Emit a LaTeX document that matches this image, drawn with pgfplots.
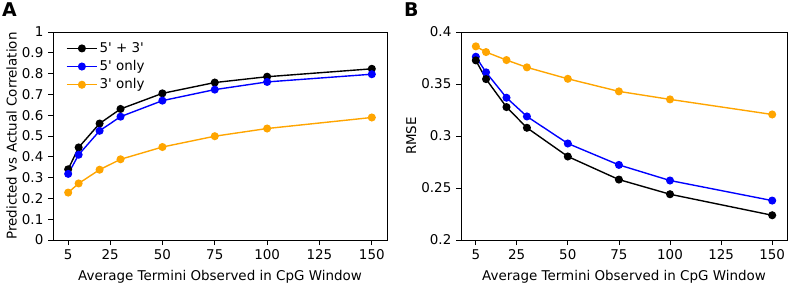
\documentclass[border=0pt]{standalone}
\usepackage{pgfplots}
\pgfplotsset{compat=1.18}
\usepackage{fontspec}
\setmainfont{DejaVu Sans}[Ligatures=TeXOff]
\definecolor{mplorange}{HTML}{FFA500}
\definecolor{mplblue}{HTML}{0000FF}
\pgfplotstableread{
x   both   five   three
5   0.340  0.318  0.228
10  0.445  0.410  0.272
20  0.560  0.525  0.338
30  0.630  0.593  0.388
50  0.705  0.670  0.447
75  0.757  0.723  0.499
100 0.785  0.760  0.536
150 0.823  0.797  0.589
}\corr
\pgfplotstableread{
x   both    five    three
5   0.3727  0.3762  0.3862
10  0.3547  0.3612  0.3807
20  0.3278  0.3368  0.3730
30  0.3079  0.3188  0.3660
50  0.2803  0.2928  0.3550
75  0.2581  0.2722  0.3429
100 0.2440  0.2572  0.3352
150 0.2238  0.2379  0.3207
}\rmse
\begin{document}
\fontsize{13.5}{15}\selectfont
\begin{tikzpicture}[x=1bp,y=1bp]
\pgfplotsset{
  every axis/.append style={
    scale only axis,
    height=208bp,
    xmin=-2.25, xmax=157.25,
    xtick={5,25,50,75,100,125,150},
    tick align=outside,
    major tick length=5bp,
    tick style={black, line width=0.8pt},
    axis line style={line width=0.8pt},
    tick label style={font=\fontsize{13.5}{15}\selectfont},
    label style={font=\fontsize{13.5}{15}\selectfont},
    xtick pos=bottom, ytick pos=left,
    /pgf/number format/assume math mode=true,
    xlabel={Average Termini Observed in CpG Window},
    xlabel style={yshift=-1bp},
    every axis plot/.append style={line width=1.4pt, mark=*, mark size=3.3bp},
  },
}
\begin{axis}[
  at={(53bp,48bp)}, anchor=south west,
  width=334bp,
  ymin=0, ymax=1,
  ytick={0,0.1,...,1.0},
  yticklabel style={/pgf/number format/.cd, fixed, precision=1},
  ylabel={Predicted vs Actual Correlation},
  ylabel style={yshift=-4bp},
  legend style={draw=none, fill=none, at={(0.03,0.97)}, anchor=north west,
    font=\fontsize{13.5}{15}\selectfont, row sep=2bp},
  legend cell align=left,
  legend image code/.code={\draw[#1] (0bp,0bp) -- (30bp,0bp); \draw[#1, mark repeat=2, mark phase=2] plot coordinates {(0bp,0bp) (15bp,0bp) (30bp,0bp)};},
]
\addplot[black] table[x=x,y=both]{\corr};
\addlegendentry{5' + 3'}
\addplot[mplblue] table[x=x,y=five]{\corr};
\addlegendentry{5' only}
\addplot[mplorange] table[x=x,y=three]{\corr};
\addlegendentry{3' only}
\end{axis}
\begin{axis}[
  at={(461bp,48bp)}, anchor=south west,
  width=326bp,
  ymin=0.2, ymax=0.4,
  ytick={0.2,0.25,0.3,0.35,0.4},
  yticklabel style={/pgf/number format/.cd, fixed, precision=2},
  ylabel={RMSE},
  ylabel style={yshift=-4bp},
]
\addplot[mplorange] table[x=x,y=three]{\rmse};
\addplot[mplblue] table[x=x,y=five]{\rmse};
\addplot[black] table[x=x,y=both]{\rmse};
\end{axis}
\node[anchor=north west, inner sep=0pt, font=\bfseries\fontsize{19}{20}\selectfont] at (2bp,285bp) {A};
\node[anchor=north west, inner sep=0pt, font=\bfseries\fontsize{19}{20}\selectfont] at (404bp,285bp) {B};
\pgfresetboundingbox
\path (0,0) rectangle (794,288);
\end{tikzpicture}
\end{document}
